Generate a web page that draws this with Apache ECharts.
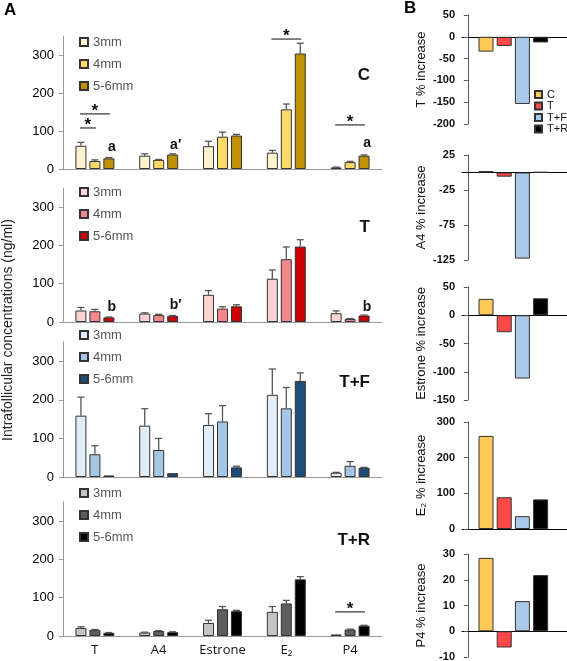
<!DOCTYPE html>
<html><head><meta charset="utf-8">
<script src="https://cdn.jsdelivr.net/npm/echarts@6/dist/echarts.min.js"></script>
<style>html,body{margin:0;padding:0;background:#fff}#c{width:567px;height:661px}</style>
</head><body><div id="c"></div>
<script>
// ---------- DATA ----------
const categories = ['T', 'A4', 'Estrone', 'E₂', 'P4'];
const sizes = ['3mm', '4mm', '5-6mm'];

// Panel C
const C_3mm = [61, 35, 60, 43, 4];
const C_4mm = [21, 24, 85, 157, 18];
const C_56mm = [28, 38, 88, 304, 35];
const C_3mm_err = [9, 5, 13, 6, 1];
const C_4mm_err = [3, 1, 12, 14, 2];
const C_56mm_err = [2, 2, 3, 27, 2];
// Panel T
const T_3mm = [30, 22, 71, 113, 23];
const T_4mm = [28, 18, 35, 164, 8];
const T_56mm = [12, 16, 41, 197, 17];
const T_3mm_err = [8, 2, 11, 23, 6];
const T_4mm_err = [5, 2, 5, 32, 1];
const T_56mm_err = [1, 1, 4, 18, 1];
// Panel T+F
const TF_3mm = [159, 133, 135, 213, 11];
const TF_4mm = [59, 70, 144, 178, 29];
const TF_56mm = [4, 10, 25, 249, 24];
const TF_3mm_err = [48, 44, 29, 67, 1];
const TF_4mm_err = [22, 30, 41, 54, 11];
const TF_56mm_err = [0, 0, 3, 21, 1];
// Panel T+R
const TR_3mm = [21, 9, 34, 63, 4];
const TR_4mm = [16, 13, 70, 85, 17];
const TR_56mm = [8, 10, 65, 148, 27];
const TR_3mm_err = [3, 1, 7, 14, 0];
const TR_4mm_err = [1, 1, 7, 8, 1];
const TR_56mm_err = [1, 1, 2, 7, 1];

// significance lines: [panel, category, fromBar, toBar, value]
const sigLines = [[0, 0, 0, 1, 108], [0, 0, 0, 2, 145], [0, 3, 0, 2, 342], [0, 4, 0, 2, 116], [3, 4, 0, 2, 63]];
// letters: [panel, category, bar, value, text]
const letters = [[0, 0, 2, 58, 'a'], [0, 1, 2, 63, 'a′'], [0, 4, 2, 68, 'a'], [1, 0, 2, 39, 'b'], [1, 1, 2, 44, 'b′'], [1, 4, 2, 39, 'b']];

// Panel B
const bCats = ['C', 'T', 'T+F', 'T+R'];
const B_T = [-34, -21, -154, -13];
const B_A4 = [2, -6, -123, 0.5];
const B_Estrone = [29, -30, -112, 30];
const B_E2 = [261, 89, 36, 83];
const B_P4 = [28.5, -6.3, 11.7, 21.8];

// ---------- STYLE / LAYOUT ----------
const FONT = '"Liberation Sans", Arial, sans-serif';
const BAR_W = 11, BAR_GAP = 0.27;
const STEP = BAR_W * (1 + BAR_GAP);
const off = k => (k - 1) * STEP;

const panelsA = [
  {key: 'C', vals: [C_3mm, C_4mm, C_56mm], errs: [C_3mm_err, C_4mm_err, C_56mm_err],
   colors: ['#FFF2CF', '#FFD966', '#BF9000'], top: 36, height: 133, legendTop: 35, label: 'C', labelY: 75},
  {key: 'T', vals: [T_3mm, T_4mm, T_56mm], errs: [T_3mm_err, T_4mm_err, T_56mm_err],
   colors: ['#FCD3D3', '#F4878C', '#CC0000'], top: 188, height: 134, legendTop: 185, label: 'T', labelY: 227},
  {key: 'TF', vals: [TF_3mm, TF_4mm, TF_56mm], errs: [TF_3mm_err, TF_4mm_err, TF_56mm_err],
   colors: ['#E0EDF8', '#A3C6E7', '#1F4E79'], top: 342, height: 135, legendTop: 328, label: 'T+F', labelY: 382},
  {key: 'TR', vals: [TR_3mm, TR_4mm, TR_56mm], errs: [TR_3mm_err, TR_4mm_err, TR_56mm_err],
   colors: ['#C4C4C4', '#5E5E5E', '#000000'], top: 502, height: 134, legendTop: 486, label: 'T+R', labelY: 540}
];

const bSubplots = [
  {name: 'T % increase', vals: B_T, min: -200, max: 50, interval: 50, top: 15, height: 109},
  {name: 'A4 % increase', vals: B_A4, min: -125, max: 25, interval: 50, top: 155, height: 105},
  {name: 'Estrone % increase', vals: B_Estrone, min: -150, max: 50, interval: 50, top: 287, height: 113},
  {name: 'E₂ % increase', vals: B_E2, min: 0, max: 300, interval: 100, top: 422, height: 107},
  {name: 'P4 % increase', vals: B_P4, min: -10, max: 30, interval: 10, top: 554, height: 103}
];
const bColors = ['#FFC957', '#FF4848', '#A9C9E8', '#000000'];

const grid = [], xAxis = [], yAxis = [], series = [], legend = [], graphic = [];

panelsA.forEach((p, pi) => {
  grid.push({left: 63, top: p.top, width: 319, height: p.height, outerBoundsMode: 'none'});
  xAxis.push({type: 'category', gridIndex: pi, data: categories,
    axisLine: {lineStyle: {color: '#999', width: 1}}, axisTick: {show: false},
    axisLabel: {show: pi === 3, fontFamily: '"Open Sans", sans-serif', fontSize: 13, color: '#111', margin: 8}});
  yAxis.push({type: 'value', gridIndex: pi, min: 0, max: 350, interval: 100,
    axisLine: {show: true, lineStyle: {color: '#999'}},
    axisTick: {show: true, length: 4, lineStyle: {color: '#999'}, customValues: [0, 100, 200, 300]},
    axisLabel: {fontFamily: FONT, fontSize: 13, color: '#000', margin: 9, customValues: [0, 100, 200, 300]},
    splitLine: {show: false}});
  p.vals.forEach((v, k) => {
    series.push({type: 'bar', name: p.key + '|' + sizes[k], xAxisIndex: pi, yAxisIndex: pi, data: v,
      barWidth: BAR_W, barGap: (BAR_GAP * 100) + '%',
      itemStyle: {color: p.colors[k], borderColor: '#333', borderWidth: 1}});
    const errs = p.errs[k];
    series.push({type: 'custom', xAxisIndex: pi, yAxisIndex: pi, z: 3, clip: false, silent: true,
      data: v.map((val, i) => [i, val, errs[i]]), encode: {x: 0, y: 1},
      renderItem: (params, api) => {
        const e = api.value(2);
        if (!e) return null;
        const p0 = api.coord([api.value(0), api.value(1)]);
        const p1 = api.coord([api.value(0), api.value(1) + e]);
        const cx = p0[0] + off(k);
        const st = {stroke: '#555', lineWidth: 1.3};
        return {type: 'group', children: [
          {type: 'line', shape: {x1: cx, y1: p0[1], x2: cx, y2: p1[1]}, style: st},
          {type: 'line', shape: {x1: cx - 3.5, y1: p1[1], x2: cx + 3.5, y2: p1[1]}, style: st}
        ]};
      }});
  });
  // annotations
  const sigs = sigLines.filter(s => s[0] === pi);
  if (sigs.length) {
    series.push({type: 'custom', xAxisIndex: pi, yAxisIndex: pi, z: 4, clip: false, silent: true,
      data: sigs.map(s => [s[1], s[4]]), encode: {x: 0, y: 1},
      renderItem: (params, api) => {
        const s = sigs[params.dataIndex];
        const c = api.coord([s[1], s[4]]);
        const x1 = c[0] + off(s[2]) - 1, x2 = c[0] + off(s[3]) + 1;
        return {type: 'group', children: [
          {type: 'line', shape: {x1: x1, y1: c[1], x2: x2, y2: c[1]}, style: {stroke: '#333', lineWidth: 1.2}},
          {type: 'text', style: {text: '*', x: (x1 + x2) / 2, y: c[1] - 3, font: 'bold 17px ' + FONT,
            fill: '#111', align: 'center', verticalAlign: 'middle', textAlign: 'center', textVerticalAlign: 'middle'}}
        ]};
      }});
  }
  const lets = letters.filter(l => l[0] === pi);
  if (lets.length) {
    series.push({type: 'custom', xAxisIndex: pi, yAxisIndex: pi, z: 4, clip: false, silent: true,
      data: lets.map(l => [l[1], l[3]]), encode: {x: 0, y: 1},
      renderItem: (params, api) => {
        const l = lets[params.dataIndex];
        const c = api.coord([l[1], l[3]]);
        return {type: 'text', style: {text: l[4], x: c[0] + off(l[2]) + 3, y: c[1], font: 'bold 14px ' + FONT,
          fill: '#111', align: 'center', verticalAlign: 'middle', textAlign: 'center', textVerticalAlign: 'middle'}};
      }});
  }
  legend.push({orient: 'vertical', left: 79, top: p.legendTop, padding: 0, itemWidth: 8, itemHeight: 8, itemGap: 8,
    icon: 'rect', selectedMode: false, data: sizes.map(s => p.key + '|' + s),
    formatter: n => n.split('|')[1],
    textStyle: {fontFamily: FONT, fontSize: 13, color: '#555', lineHeight: 14}});
  graphic.push({type: 'text', x: 370, y: p.labelY, style: {text: p.label, font: 'bold 17px ' + FONT, fill: '#111',
    textAlign: 'right', textVerticalAlign: 'middle', align: 'right', verticalAlign: 'middle'}});
});

bSubplots.forEach((b, j) => {
  const gi = 4 + j;
  grid.push({left: 462, top: b.top, width: 105, height: b.height, outerBoundsMode: 'none'});
  xAxis.push({type: 'value', gridIndex: gi, min: -0.32, max: 5.45,
    axisLine: {show: true, onZero: true, lineStyle: {color: '#000', width: 1}},
    axisTick: {show: false}, axisLabel: {show: false}, splitLine: {show: false}});
  yAxis.push({type: 'value', gridIndex: gi, min: b.min, max: b.max, interval: b.interval,
    name: b.name, nameLocation: 'middle', nameGap: 34,
    nameTextStyle: {fontFamily: FONT, fontSize: 13, color: '#111'},
    axisLine: {show: true, lineStyle: {color: '#555'}},
    axisTick: {show: true, length: 4, lineStyle: {color: '#555'}},
    axisLabel: {fontFamily: FONT, fontSize: 11, fontWeight: 'bold', color: '#111', margin: 7},
    splitLine: {show: false}});
  bCats.forEach((c, i) => {
    series.push({type: 'bar', name: 'B' + j + '|' + c, xAxisIndex: gi, yAxisIndex: gi,
      data: [[i + 1, b.vals[i]]], barWidth: 15, barGap: '-100%',
      itemStyle: {color: bColors[i], borderColor: '#333', borderWidth: 1}});
  });
});

legend.push({orient: 'vertical', left: 534, top: 89, padding: 0, itemWidth: 7, itemHeight: 7, itemGap: 0.5,
  icon: 'rect', selectedMode: false, data: bCats.map(c => 'B0|' + c),
  formatter: n => n.split('|')[1],
  textStyle: {fontFamily: FONT, fontSize: 11, color: '#111', lineHeight: 10, overflow: 'none', width: 40}});

graphic.push({type: 'text', x: 4, y: 10, style: {text: 'A', font: 'bold 17px ' + FONT, fill: '#000',
  textVerticalAlign: 'middle', verticalAlign: 'middle'}});
graphic.push({type: 'text', x: 404, y: 8, style: {text: 'B', font: 'bold 17px ' + FONT, fill: '#000',
  textVerticalAlign: 'middle', verticalAlign: 'middle'}});
graphic.push({type: 'text', x: 8, y: 330, rotation: Math.PI / 2,
  style: {text: 'Intrafollicular concentrations (ng/ml)', font: '14px ' + FONT, fill: '#222',
    textAlign: 'center', textVerticalAlign: 'middle', align: 'center', verticalAlign: 'middle'}});

const chart = echarts.init(document.getElementById('c'), null, {renderer: 'canvas', width: 567, height: 661});
chart.setOption({animation: false, backgroundColor: '#fff', grid, xAxis, yAxis, series, legend, graphic});
</script>
</body></html>
